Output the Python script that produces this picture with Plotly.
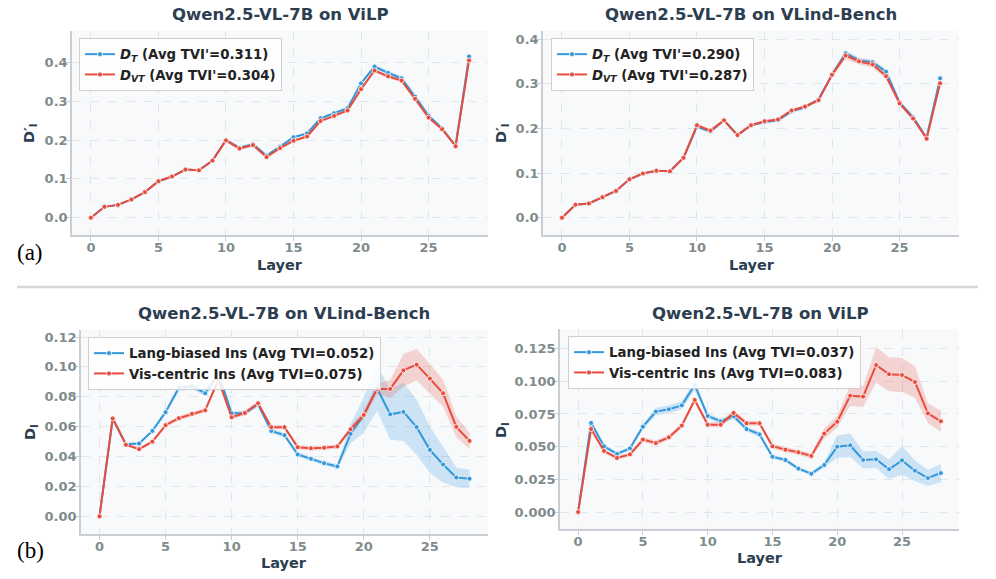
import plotly.graph_objects as go

W, H = 996, 579
layers = list(range(29))

# ---- Panel (a) left: Qwen2.5-VL-7B on ViLP ----
vilp_dt = [0.000, 0.028, 0.033, 0.047, 0.066, 0.094, 0.106, 0.124, 0.122, 0.147,
           0.200, 0.180, 0.189, 0.160, 0.183, 0.207, 0.217, 0.256, 0.269, 0.282,
           0.346, 0.389, 0.373, 0.359, 0.312, 0.263, 0.230, 0.185, 0.415]
vilp_dvt = [0.000, 0.028, 0.033, 0.047, 0.066, 0.094, 0.106, 0.124, 0.122, 0.147,
            0.199, 0.178, 0.187, 0.156, 0.179, 0.198, 0.209, 0.249, 0.262, 0.276,
            0.331, 0.379, 0.364, 0.353, 0.306, 0.258, 0.228, 0.184, 0.405]
vilp_dt_err = [0.000, 0.001, 0.001, 0.001, 0.001, 0.001, 0.001, 0.002, 0.002, 0.002,
               0.005, 0.004, 0.004, 0.003, 0.003, 0.003, 0.003, 0.003, 0.003, 0.003,
               0.004, 0.005, 0.005, 0.005, 0.004, 0.003, 0.003, 0.003, 0.014]
vilp_dvt_err = [0.000, 0.001, 0.001, 0.001, 0.001, 0.001, 0.001, 0.002, 0.002, 0.002,
                0.005, 0.004, 0.004, 0.003, 0.003, 0.003, 0.003, 0.003, 0.003, 0.003,
                0.004, 0.005, 0.005, 0.005, 0.004, 0.003, 0.003, 0.003, 0.012]

# ---- Panel (a) right: Qwen2.5-VL-7B on VLind-Bench ----
vlind_dt = [0.000, 0.029, 0.032, 0.046, 0.060, 0.086, 0.099, 0.105, 0.104, 0.134,
            0.204, 0.193, 0.218, 0.185, 0.207, 0.214, 0.218, 0.238, 0.247, 0.265,
            0.320, 0.368, 0.352, 0.348, 0.327, 0.258, 0.225, 0.179, 0.312]
vlind_dvt = [0.000, 0.029, 0.032, 0.046, 0.060, 0.086, 0.099, 0.105, 0.104, 0.134,
             0.207, 0.195, 0.218, 0.185, 0.207, 0.216, 0.220, 0.240, 0.249, 0.263,
             0.320, 0.363, 0.350, 0.343, 0.317, 0.256, 0.222, 0.177, 0.301]
vlind_dt_err = [0.000, 0.001, 0.001, 0.001, 0.001, 0.001, 0.001, 0.002, 0.002, 0.002,
                0.004, 0.004, 0.003, 0.003, 0.003, 0.003, 0.003, 0.003, 0.003, 0.004,
                0.005, 0.007, 0.006, 0.006, 0.005, 0.004, 0.003, 0.003, 0.010]
vlind_dvt_err = [0.000, 0.001, 0.001, 0.001, 0.001, 0.001, 0.001, 0.002, 0.002, 0.002,
                 0.004, 0.004, 0.003, 0.003, 0.003, 0.003, 0.003, 0.003, 0.003, 0.004,
                 0.005, 0.008, 0.007, 0.007, 0.006, 0.004, 0.003, 0.003, 0.008]

# ---- Panel (b) left: Qwen2.5-VL-7B on VLind-Bench ----
vlind_lang = [0.0000, 0.0655, 0.0483, 0.0488, 0.0572, 0.0697, 0.0859, 0.0870, 0.0824, 0.0953,
              0.0690, 0.0692, 0.0748, 0.0572, 0.0543, 0.0414, 0.0385, 0.0356, 0.0334, 0.0552,
              0.0677, 0.0857, 0.0683, 0.0699, 0.0597, 0.0445, 0.0347, 0.0260, 0.0252]
vlind_vis = [0.0000, 0.0655, 0.0479, 0.0450, 0.0500, 0.0610, 0.0657, 0.0686, 0.0710, 0.0913,
             0.0663, 0.0692, 0.0757, 0.0597, 0.0597, 0.0463, 0.0456, 0.0459, 0.0468, 0.0583,
             0.0679, 0.0853, 0.0853, 0.0977, 0.1015, 0.0922, 0.0824, 0.0599, 0.0505]
vlind_lang_err = [0.000, 0.001, 0.001, 0.001, 0.001, 0.0015, 0.002, 0.002, 0.002, 0.003,
                  0.0015, 0.0015, 0.0015, 0.0015, 0.0015, 0.0015, 0.0015, 0.0015, 0.0015, 0.0065,
                  0.0120, 0.0150, 0.0170, 0.0195, 0.0185, 0.0155, 0.0120, 0.0065, 0.0060]
vlind_vis_err = [0.000, 0.001, 0.001, 0.001, 0.001, 0.0015, 0.0015, 0.0015, 0.0015, 0.0015,
                 0.0015, 0.0015, 0.0015, 0.0015, 0.0015, 0.0015, 0.0015, 0.0015, 0.0015, 0.0020,
                 0.0030, 0.0035, 0.0060, 0.0110, 0.0105, 0.0100, 0.0090, 0.0070, 0.0055]

# ---- Panel (b) right: Qwen2.5-VL-7B on ViLP ----
vilp_lang = [0.0000, 0.0681, 0.0503, 0.0444, 0.0487, 0.0653, 0.0768, 0.0786, 0.0816, 0.0972,
             0.0735, 0.0694, 0.0732, 0.0635, 0.0594, 0.0423, 0.0398, 0.0332, 0.0293, 0.0360,
             0.0500, 0.0510, 0.0398, 0.0403, 0.0327, 0.0395, 0.0316, 0.0260, 0.0298]
vilp_vis = [0.0000, 0.0635, 0.0467, 0.0413, 0.0441, 0.0554, 0.0528, 0.0571, 0.0661, 0.0857,
            0.0668, 0.0668, 0.0758, 0.0679, 0.0679, 0.0503, 0.0477, 0.0457, 0.0429, 0.0600,
            0.0691, 0.0890, 0.0883, 0.1125, 0.1054, 0.1048, 0.0995, 0.0755, 0.0694]
vilp_lang_err = [0.000, 0.002, 0.0015, 0.0015, 0.0015, 0.002, 0.003, 0.003, 0.003, 0.004,
                 0.002, 0.002, 0.002, 0.002, 0.002, 0.0015, 0.0015, 0.0015, 0.0015, 0.002,
                 0.0085, 0.0090, 0.0065, 0.0065, 0.0075, 0.0110, 0.0080, 0.0060, 0.0070]
vilp_vis_err = [0.000, 0.002, 0.0015, 0.0015, 0.0015, 0.002, 0.002, 0.002, 0.002, 0.002,
                0.002, 0.002, 0.002, 0.002, 0.002, 0.002, 0.002, 0.002, 0.002, 0.004,
                0.0045, 0.0080, 0.0080, 0.0137, 0.0130, 0.0130, 0.0120, 0.0075, 0.0080]

BLUE = "#3498db"
RED = "#e74c3c"
BLUE_FILL = "rgba(52,152,219,0.22)"
RED_FILL = "rgba(231,76,60,0.22)"
DARK = "#2c3e50"
TICKC = "#7f8c8d"
FONT = "DejaVu Sans"

fig = go.Figure()


def add_series(xa, ya, vals, err, color, fill, name, legend):
    up = [v + e for v, e in zip(vals, err)]
    lo = [v - e for v, e in zip(vals, err)]
    fig.add_trace(go.Scatter(x=layers, y=up, xaxis=xa, yaxis=ya, mode="lines",
                             line=dict(width=0), showlegend=False, hoverinfo="skip"))
    fig.add_trace(go.Scatter(x=layers, y=lo, xaxis=xa, yaxis=ya, mode="lines",
                             line=dict(width=0), fill="tonexty", fillcolor=fill,
                             showlegend=False, hoverinfo="skip"))
    fig.add_trace(go.Scatter(x=layers, y=vals, xaxis=xa, yaxis=ya, mode="lines+markers",
                             name=name, legend=legend,
                             line=dict(color=color, width=2),
                             marker=dict(size=5, color=color, line=dict(color="white", width=0.8))))


add_series("x", "y", vilp_dt, vilp_dt_err, BLUE, BLUE_FILL,
           "<i>D<sub>T</sub></i> (Avg TVI'=0.311)", "legend")
add_series("x", "y", vilp_dvt, vilp_dvt_err, RED, RED_FILL,
           "<i>D<sub>VT</sub></i> (Avg TVI'=0.304)", "legend")
add_series("x2", "y2", vlind_dt, vlind_dt_err, BLUE, BLUE_FILL,
           "<i>D<sub>T</sub></i> (Avg TVI'=0.290)", "legend2")
add_series("x2", "y2", vlind_dvt, vlind_dvt_err, RED, RED_FILL,
           "<i>D<sub>VT</sub></i> (Avg TVI'=0.287)", "legend2")
add_series("x3", "y3", vlind_lang, vlind_lang_err, BLUE, BLUE_FILL,
           "Lang-biased Ins (Avg TVI=0.052)", "legend3")
add_series("x3", "y3", vlind_vis, vlind_vis_err, RED, RED_FILL,
           "Vis-centric Ins (Avg TVI=0.075)", "legend3")
add_series("x4", "y4", vilp_lang, vilp_lang_err, BLUE, BLUE_FILL,
           "Lang-biased Ins (Avg TVI=0.037)", "legend4")
add_series("x4", "y4", vilp_vis, vilp_vis_err, RED, RED_FILL,
           "Vis-centric Ins (Avg TVI=0.083)", "legend4")


def px_x(p):
    return p / W


def px_y(p):
    return 1 - p / H


AX_COMMON = dict(showline=True, linecolor="#c8ced3", linewidth=1.5, mirror=False,
                 ticks="outside", ticklen=4, tickcolor="#c8ced3",
                 showgrid=True, gridcolor="#e3e6e8", griddash="dash", gridwidth=0.8,
                 zeroline=False, automargin=False, ticklabelstandoff=-4,
                 tickfont=dict(family=FONT, size=13, color=TICKC, weight="bold"))


def xaxis(l, r, anchor):
    return dict(AX_COMMON, domain=[px_x(l), px_x(r)], anchor=anchor, range=[-1.4, 29.4],
                tickmode="array", tickvals=[0, 5, 10, 15, 20, 25])


def yaxis(t, b, anchor, rng, tv, fmt):
    return dict(AX_COMMON, domain=[px_y(b), px_y(t)], anchor=anchor, range=rng,
                tickmode="array", tickvals=tv, tickformat=fmt)


ytop = [0.0, 0.1, 0.2, 0.3, 0.4]
ybl = [0.0, 0.02, 0.04, 0.06, 0.08, 0.10, 0.12]
ybr = [0.0, 0.025, 0.05, 0.075, 0.1, 0.125]
lab_a = "D′<sub>I</sub>"
lab_b = "D<sub>I</sub>"

LEGEND_BASE = dict(bgcolor="rgba(255,255,255,0.85)", bordercolor="#cfcfcf", borderwidth=1,
                   font=dict(family=FONT, size=13.3, color="#222222", weight="bold"),
                   xanchor="left", yanchor="top", itemwidth=30, tracegroupgap=0,
                   traceorder="normal")

fig.update_layout(
    width=W, height=H,
    margin=dict(l=0, r=0, t=0, b=0, autoexpand=False),
    paper_bgcolor="white",
    plot_bgcolor="#f7f9fb",
    showlegend=True,
    xaxis=xaxis(72, 488, "y"),
    yaxis=yaxis(31, 235, "x", [-0.0445, 0.4806], ytop, ".1f"),
    xaxis2=xaxis(543, 959, "y2"),
    yaxis2=yaxis(31, 235, "x2", [-0.0387, 0.418], ytop, ".1f"),
    xaxis3=xaxis(81, 488, "y3"),
    yaxis3=yaxis(330, 534, "x3", [-0.0118, 0.1247], ybl, ".2f"),
    xaxis4=xaxis(560, 959, "y4"),
    yaxis4=yaxis(329, 529, "x4", [-0.013, 0.140], ybr, ".3f"),
    legend=dict(LEGEND_BASE, x=px_x(79), y=px_y(38)),
    legend2=dict(LEGEND_BASE, x=px_x(551), y=px_y(38)),
    legend3=dict(LEGEND_BASE, x=px_x(88), y=px_y(337)),
    legend4=dict(LEGEND_BASE, x=px_x(568), y=px_y(336)),
)


def note(text, cx, cy, size, family=FONT, color=DARK, weight="bold", angle=0):
    fig.add_annotation(text=text, x=px_x(cx), y=px_y(cy), xref="paper", yref="paper",
                       showarrow=False, xanchor="center", yanchor="middle", textangle=angle,
                       font=dict(family=family, size=size, color=color, weight=weight))


# subplot titles
note("Qwen2.5-VL-7B on ViLP", 280, 14, 16.5)
note("Qwen2.5-VL-7B on VLind-Bench", 751, 14, 16.5)
note("Qwen2.5-VL-7B on VLind-Bench", 284, 313, 16.5)
note("Qwen2.5-VL-7B on ViLP", 760, 313, 16.5)

# axis titles
for cx, cy in [(280, 265), (752, 265), (284, 563), (760, 558)]:
    note("Layer", cx, cy, 14.5)
note(lab_a, 30, 133, 14.5, angle=-90)
note(lab_a, 502, 133, 14.5, angle=-90)
note(lab_b, 31, 432, 14.5, angle=-90)
note(lab_b, 502, 430, 14.5, angle=-90)

# panel labels
note("(a)", 30, 252, 23, family="Liberation Serif", color="black", weight="normal")
note("(b)", 30, 550, 23, family="Liberation Serif", color="black", weight="normal")

fig.add_shape(type="line", xref="paper", yref="paper",
              x0=px_x(17), x1=px_x(978), y0=px_y(287), y1=px_y(287),
              line=dict(color="#d6d6d6", width=2.5))

fig.write_html("out.html", config={"displayModeBar": False},
               post_script="document.body.style.margin='0';")
